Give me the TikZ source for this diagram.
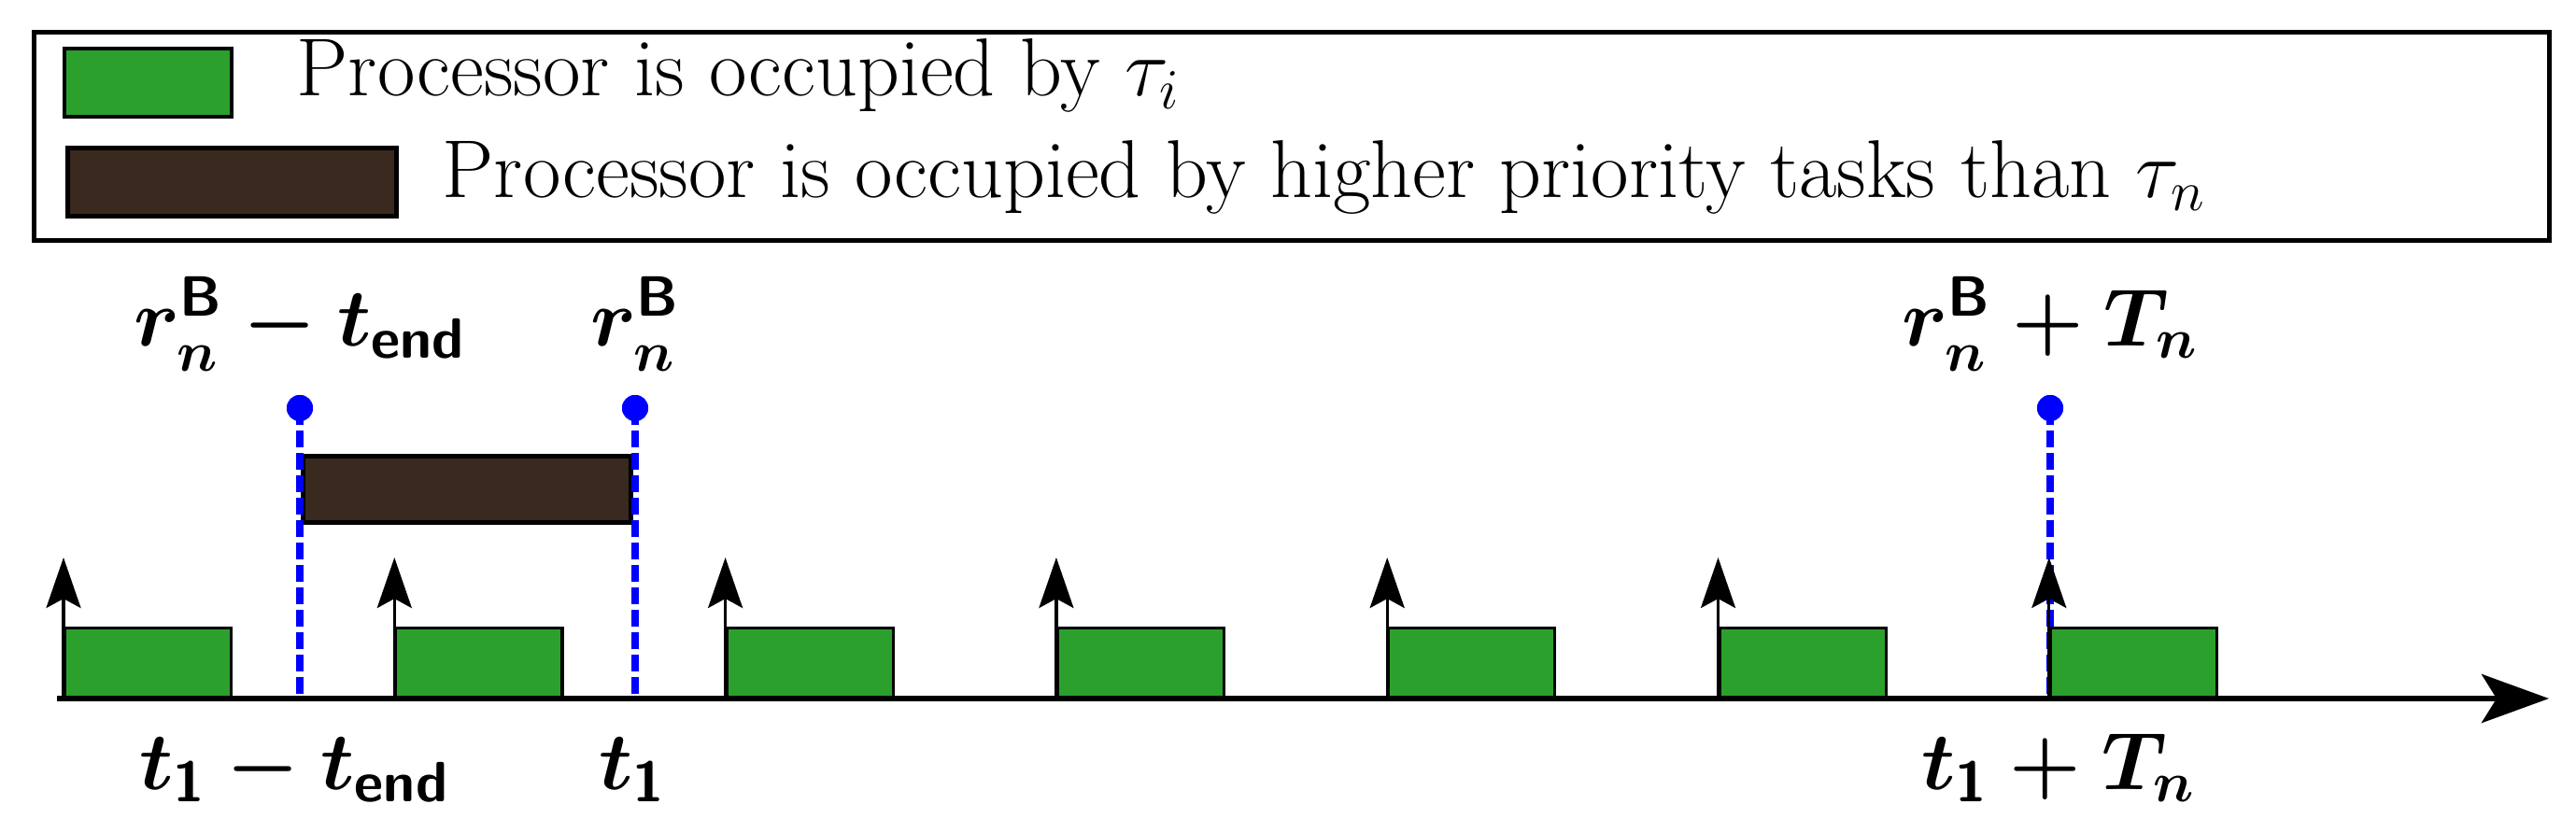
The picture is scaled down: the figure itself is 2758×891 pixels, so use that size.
\documentclass[tikz,border=0pt]{standalone}
\usepackage{amsmath}
\usetikzlibrary{arrows.meta}
\definecolor{taskgreen}{HTML}{2CA02C}
\definecolor{hpbrown}{HTML}{3A291E}
\definecolor{pureblue}{RGB}{0,0,255}
\begin{document}
\begin{tikzpicture}[x=0.01cm,y=-0.01cm,
  legendbox/.style={draw=black, line width=1.5pt, inner sep=0pt, anchor=north west,
    minimum width=26.91cm, minimum height=2.23cm},
  legendtext/.style={font=\fontsize{25}{29}\selectfont, inner sep=0pt, anchor=base west},
  mathlabel/.style={font=\fontsize{26}{30}\selectfont\boldmath, inner sep=0pt, anchor=base},
  greenbox/.style={draw=black, line width=0.9pt, fill=taskgreen, inner sep=0pt,
    minimum width=1.78cm, minimum height=0.74cm, anchor=south west},
  brownbox/.style={draw=black, line width=1.3pt, fill=hpbrown, inner sep=0pt, anchor=north west},
  bluedot/.style={circle, fill=pureblue, inner sep=0pt, minimum size=0.28cm},
  bluedash/.style={draw=pureblue, line width=2.1pt, dash pattern=on 0.18cm off 0.06cm},
  taskarrow/.style={draw=black, line width=0.9pt, -{Stealth[length=0.54cm, width=0.37cm, inset=0.1cm]}},
  axisline/.style={draw=black, line width=1.7pt, -{Stealth[length=0.72cm, width=0.52cm, inset=0.16cm]}}
]
\useasboundingbox (0,0) rectangle (2758,891);

% legend
\node[legendbox] (legend) at (34,32) {};
\node[greenbox, anchor=north west, line width=1.2pt, minimum width=1.79cm, minimum height=0.73cm] (lgreen) at (67,50) {};
\node[legendtext] (ltext1) at (317,103) {Processor is occupied by $\tau_i$};
\node[brownbox, minimum width=3.52cm, minimum height=0.73cm] (lbrown) at (70,156) {};
\node[legendtext] (ltext2) at (473,212) {Processor is occupied by higher priority tasks than $\tau_n$};

% higher-priority interval
\node[brownbox, minimum width=3.51cm, minimum height=0.71cm] (hp) at (322,486) {};

% blue markers
\node[bluedot] (d1) at (321,437) {};
\node[bluedot] (d2) at (680,437) {};
\node[bluedot] (d3) at (2195,437) {};
\coordinate (b1) at (321,748);
\coordinate (b2) at (680,748);
\coordinate (b3) at (2195,748);
\draw[bluedash] (d1.center) -- (b1);
\draw[bluedash] (d2.center) -- (b2);
\draw[bluedash] (d3.center) -- (b3);
\node[bluedot] at (d1) {};
\node[bluedot] at (d2) {};
\node[bluedot] at (d3) {};

% task instances
\foreach \i in {0,...,6} {
  \pgfmathsetmacro\xx{68+354.3*\i}
  \node[greenbox] (g\i) at (\xx,748) {};
  \coordinate (a\i) at (\xx,597);
  \draw[taskarrow] (g\i.south west) -- (a\i);
}

% time axis
\coordinate (axs) at (61,748);
\coordinate (axe) at (2729,748);
\draw[axisline] (axs) -- (axe);

% labels
\node[mathlabel] (l1) at (321,370) {$r_n^{\mathsf{B}} - t_{\mathsf{end}}$};
\node[mathlabel] (l2) at (680,370) {$r_n^{\mathsf{B}}$};
\node[mathlabel] (l3) at (2195,370) {$r_n^{\mathsf{B}} + T_n$};
\node[mathlabel] (l4) at (315,845) {$t_{\mathsf{1}} - t_{\mathsf{end}}$};
\node[mathlabel] (l5) at (677,845) {$t_{\mathsf{1}}$};
\node[mathlabel] (l6) at (2204,845) {$t_{\mathsf{1}} + T_n$};
\end{tikzpicture}
\end{document}
